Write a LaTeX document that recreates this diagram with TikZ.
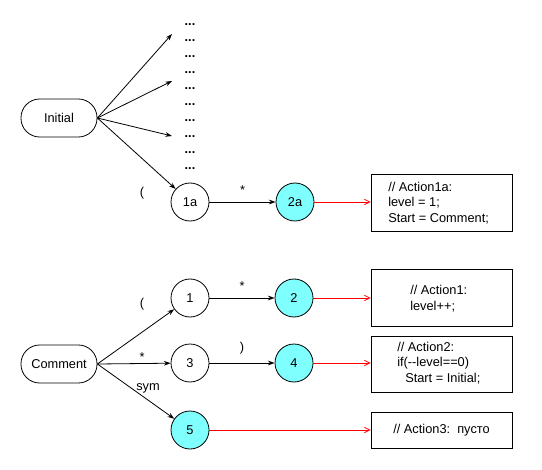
\documentclass[tikz,border=0pt]{standalone}
\usepackage{fontspec}
\setmainfont{Liberation Sans}
\usetikzlibrary{arrows.meta}
\definecolor{cyanfill}{RGB}{128,255,255}
\begin{document}
\begin{tikzpicture}[x=0.75pt,y=-0.75pt,
  every node/.style={font=\fontsize{9.6pt}{11pt}\selectfont},
  term/.style={draw,rounded corners=14pt,minimum width=57pt,minimum height=28.5pt,inner sep=0pt,line width=0.6pt},
  st/.style={draw,circle,minimum size=28.5pt,inner sep=0pt,line width=0.6pt},
  fin/.style={st,fill=cyanfill},
  act/.style={draw,rectangle,minimum width=105.75pt,line width=0.6pt,inner sep=0pt},
  arr/.style={-{Stealth[length=5pt,width=3.5pt]},line width=0.6pt},
  rarr/.style={red,-{Straight Barb[length=4pt,width=4pt]},line width=0.6pt},
  lbl/.style={inner sep=0pt},
  dots/.style={inner sep=0pt,font=\fontsize{9.6pt}{11pt}\selectfont\bfseries}
]
\useasboundingbox (0,0) rectangle (542,470);

% top part
\node[term] (init) at (59,118) {Initial};
\foreach \i in {0,...,9} {
  \node[dots] (d\i) at (190,{25+16*\i}) {...};
}
\coordinate (e1) at (172,34);
\coordinate (e2) at (172,81);
\coordinate (e3) at (172,136);
\node[st] (n1a) at (190,202) {1a};
\node[fin] (n2a) at (295,202) {2a};
\node[act,minimum height=42.75pt] (b1a) at (441.5,202.5) {};
\node[lbl,anchor=west] (t1a) at (388,187) {// Action1a:};
\node[lbl,anchor=west] (t1b) at (388,203) {level = 1;};
\node[lbl,anchor=west] (t1c) at (388,219) {Start = Comment;};

\draw[arr] (init.east) -- (e1);
\draw[arr] (init.east) -- (e2);
\draw[arr] (init.east) -- (e3);
\draw[arr] (init.east) -- (n1a);
\node[lbl] (lp0) at (142,193) {(};
\draw[arr] (n1a) -- (n2a) node[lbl,midway,above=5pt] (ls0) {*};
\draw[rarr] (n2a) -- (b1a.west|-n2a);

% bottom part
\node[term] (com) at (59,364) {Comment};
\node[st] (n1) at (190,298) {1};
\node[st] (n3) at (190,363) {3};
\node[fin] (n5) at (190,430) {5};
\node[fin] (n2) at (294,298) {2};
\node[fin] (n4) at (294,363) {4};
\node[act,minimum height=42.75pt] (b1) at (441.5,297.5) {};
\node[lbl,anchor=west] (a1a) at (410,290) {// Action1:};
\node[lbl,anchor=west] (a1b) at (410,307) {level++;};
\node[act,minimum height=42pt] (b2) at (441.5,364) {};
\node[lbl,anchor=west] (a2a) at (397,347) {// Action2:};
\node[lbl,anchor=west] (a2b) at (397,363) {if({-}{-}level==0)};
\node[lbl,anchor=west] (a2c) at (405,379) {Start = Initial;};
\node[act,minimum height=27pt] (b3) at (441.5,430) {// Action3:\ \ пусто};

\draw[arr] (com.east) -- (n1);
\draw[arr] (com.east) -- (n3);
\draw[arr] (com.east) -- (n5);
\node[lbl] (lp1) at (142,304) {(};
\node[lbl] (ls1) at (142,357) {*};
\node[lbl] (lsym) at (148,388) {sym};
\draw[arr] (n1) -- (n2) node[lbl,midway,above=5pt] (ls2) {*};
\draw[arr] (n3) -- (n4) node[lbl,midway,above=6pt] (lr) {)};
\draw[rarr] (n2) -- (b1.west|-n2);
\draw[rarr] (n4) -- (b2.west|-n4);
\draw[rarr] (n5) -- (b3.west|-n5);
\end{tikzpicture}
\end{document}
